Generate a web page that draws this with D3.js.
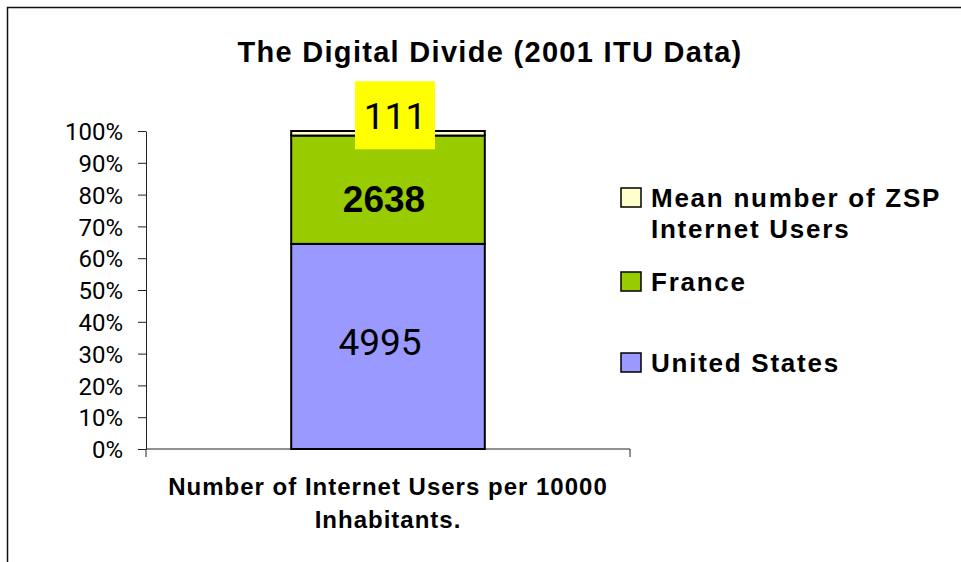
<!DOCTYPE html>
<html>
<head>
<meta charset="utf-8">
<script src="https://cdn.jsdelivr.net/npm/d3@7"></script>
<style>
  body { margin: 0; background: #fff; }
  svg { display: block; font-family: "Liberation Sans", Arial, sans-serif; }
</style>
</head>
<body>
<div id="chart"></div>
<script>
// data
const categories = ["Number of Internet Users per 10000 Inhabitants."];
const seriesNames = ["United States", "France", "Mean number of ZSP Internet Users"];
const seriesValues = [4995, 2638, 111];
const seriesColors = ["#9999ff", "#99cc00", "#ffffcc"];
const yTickValues = [0, 0.1, 0.2, 0.3, 0.4, 0.5, 0.6, 0.7, 0.8, 0.9, 1];

const width = 961,
      height = 562,
      margin = ({ top: 131, right: 331, bottom: 113, left: 146 });

// digits: Liberation Sans draws a foot on "1", Roboto is closer to the original here
const numFont = "Roboto, 'Liberation Sans', Arial, sans-serif";

// table for d3.stack
let row = { category: categories[0] };
seriesNames.forEach((s, i) => row[s] = seriesValues[i]);
const table = [row];

const stacked = d3.stack()
    .keys(seriesNames)
    .offset(d3.stackOffsetExpand)(table);

const svg = d3.select("#chart")
    .append("svg")
    .attr("width", width)
    .attr("height", height)
    .attr("viewBox", [0, 0, width, height]);

// outer frame (cut off on the right and bottom like the original)
svg.append("rect")
    .attr("x", 7.5)
    .attr("y", 7.5)
    .attr("width", 1000)
    .attr("height", 700)
    .attr("fill", "none")
    .attr("stroke", "#111")
    .attr("stroke-width", 1.5);

let x = d3.scaleBand()
    .domain(categories)
    .range([margin.left, width - margin.right])
    .paddingInner(0)
    .paddingOuter(0.75);

let y = d3.scaleLinear()
    .domain([0, 1])
    .range([height - margin.bottom, margin.top]);

svg.append("text")
    .attr("x", 490)
    .attr("y", 62)
    .attr("text-anchor", "middle")
    .attr("font-size", 29)
    .attr("font-weight", "bold")
    .attr("letter-spacing", 1.3)
    .text("The Digital Divide (2001 ITU Data)");

// y axis
const yAxis = svg.append("g")
    .attr("transform", `translate(${margin.left},0)`)
    .call(d3.axisLeft(y)
        .tickValues(yTickValues)
        .tickFormat(d3.format(".0%"))
        .tickSize(8)
        .tickSizeOuter(0)
        .tickPadding(15));

yAxis.select(".domain").attr("stroke", "#222");
yAxis.selectAll(".tick line").attr("stroke", "#222");
yAxis.selectAll(".tick text")
    .attr("font-family", numFont)
    .attr("font-size", 24)
    .attr("fill", "#000")
    .attr("dy", "0.36em");

// x axis: line with ticks at the category edges
const [x0, x1] = x.range();
svg.append("line")
    .attr("x1", x0).attr("x2", x1)
    .attr("y1", y(0)).attr("y2", y(0))
    .attr("stroke", "#222");

svg.selectAll(".xedge")
    .data([x0, x1])
    .join("line")
    .attr("class", "xedge")
    .attr("x1", d => d).attr("x2", d => d)
    .attr("y1", y(0)).attr("y2", y(0) + 8)
    .attr("stroke", "#222");

svg.append("text")
    .attr("x", (x0 + x1) / 2)
    .attr("y", 495)
    .attr("text-anchor", "middle")
    .attr("font-size", 24)
    .attr("font-weight", "bold")
    .attr("letter-spacing", 1)
    .selectAll("tspan")
    .data(["Number of Internet Users per 10000", "Inhabitants."])
    .join("tspan")
    .attr("x", (x0 + x1) / 2)
    .attr("dy", (d, i) => i === 0 ? 0 : 33)
    .text(d => d);

// stacked bar
svg.append("g")
    .selectAll("rect")
    .data(stacked)
    .join("rect")
    .attr("x", d => x(d[0].data.category))
    .attr("width", x.bandwidth())
    .attr("y", d => y(d[0][1]))
    .attr("height", d => y(d[0][0]) - y(d[0][1]))
    .attr("fill", (d, i) => seriesColors[i])
    .attr("stroke", "#000")
    .attr("stroke-width", 2);

// data labels (moved by hand in the original, hence the small nudges)
const labelNudge = [
  { dx: -8, dy: -5, bold: false, box: false },
  { dx: -4, dy: 9, bold: true, box: false },
  { dx: 7, dy: -18, bold: false, box: true }
];

const labels = svg.append("g")
    .selectAll("g")
    .data(stacked)
    .join("g")
    .attr("transform", (d, i) => {
      const cx = x(d[0].data.category) + x.bandwidth() / 2 + labelNudge[i].dx;
      const cy = y((d[0][0] + d[0][1]) / 2) + labelNudge[i].dy;
      return `translate(${cx},${cy})`;
    });

labels.filter((d, i) => labelNudge[i].box)
    .append("rect")
    .attr("x", -40)
    .attr("y", -34)
    .attr("width", 80)
    .attr("height", 68)
    .attr("fill", "#ffff00");

labels.append("text")
    .attr("text-anchor", "middle")
    .attr("dy", "0.36em")
    .attr("font-family", (d, i) => labelNudge[i].bold ? null : numFont)
    .attr("font-size", 37)
    .attr("font-weight", (d, i) => labelNudge[i].bold ? "bold" : "normal")
    .text((d, i) => seriesValues[i]);

// legend, top entry is the last series
const legendItems = [
  { i: 2, lines: ["Mean number of ZSP", "Internet Users"], y: 207 },
  { i: 1, lines: ["France"], y: 291 },
  { i: 0, lines: ["United States"], y: 372 }
];

const legend = svg.append("g")
    .selectAll("g")
    .data(legendItems)
    .join("g")
    .attr("transform", d => `translate(621,${d.y})`);

legend.append("rect")
    .attr("x", 0)
    .attr("y", -19)
    .attr("width", 20)
    .attr("height", 19)
    .attr("fill", d => seriesColors[d.i])
    .attr("stroke", "#000")
    .attr("stroke-width", 1.5);

legend.append("text")
    .attr("font-size", 26)
    .attr("font-weight", "bold")
    .attr("letter-spacing", 1.75)
    .selectAll("tspan")
    .data(d => d.lines)
    .join("tspan")
    .attr("x", 30)
    .attr("dy", (d, i) => i === 0 ? 0 : 31)
    .text(d => d);
</script>
</body>
</html>
